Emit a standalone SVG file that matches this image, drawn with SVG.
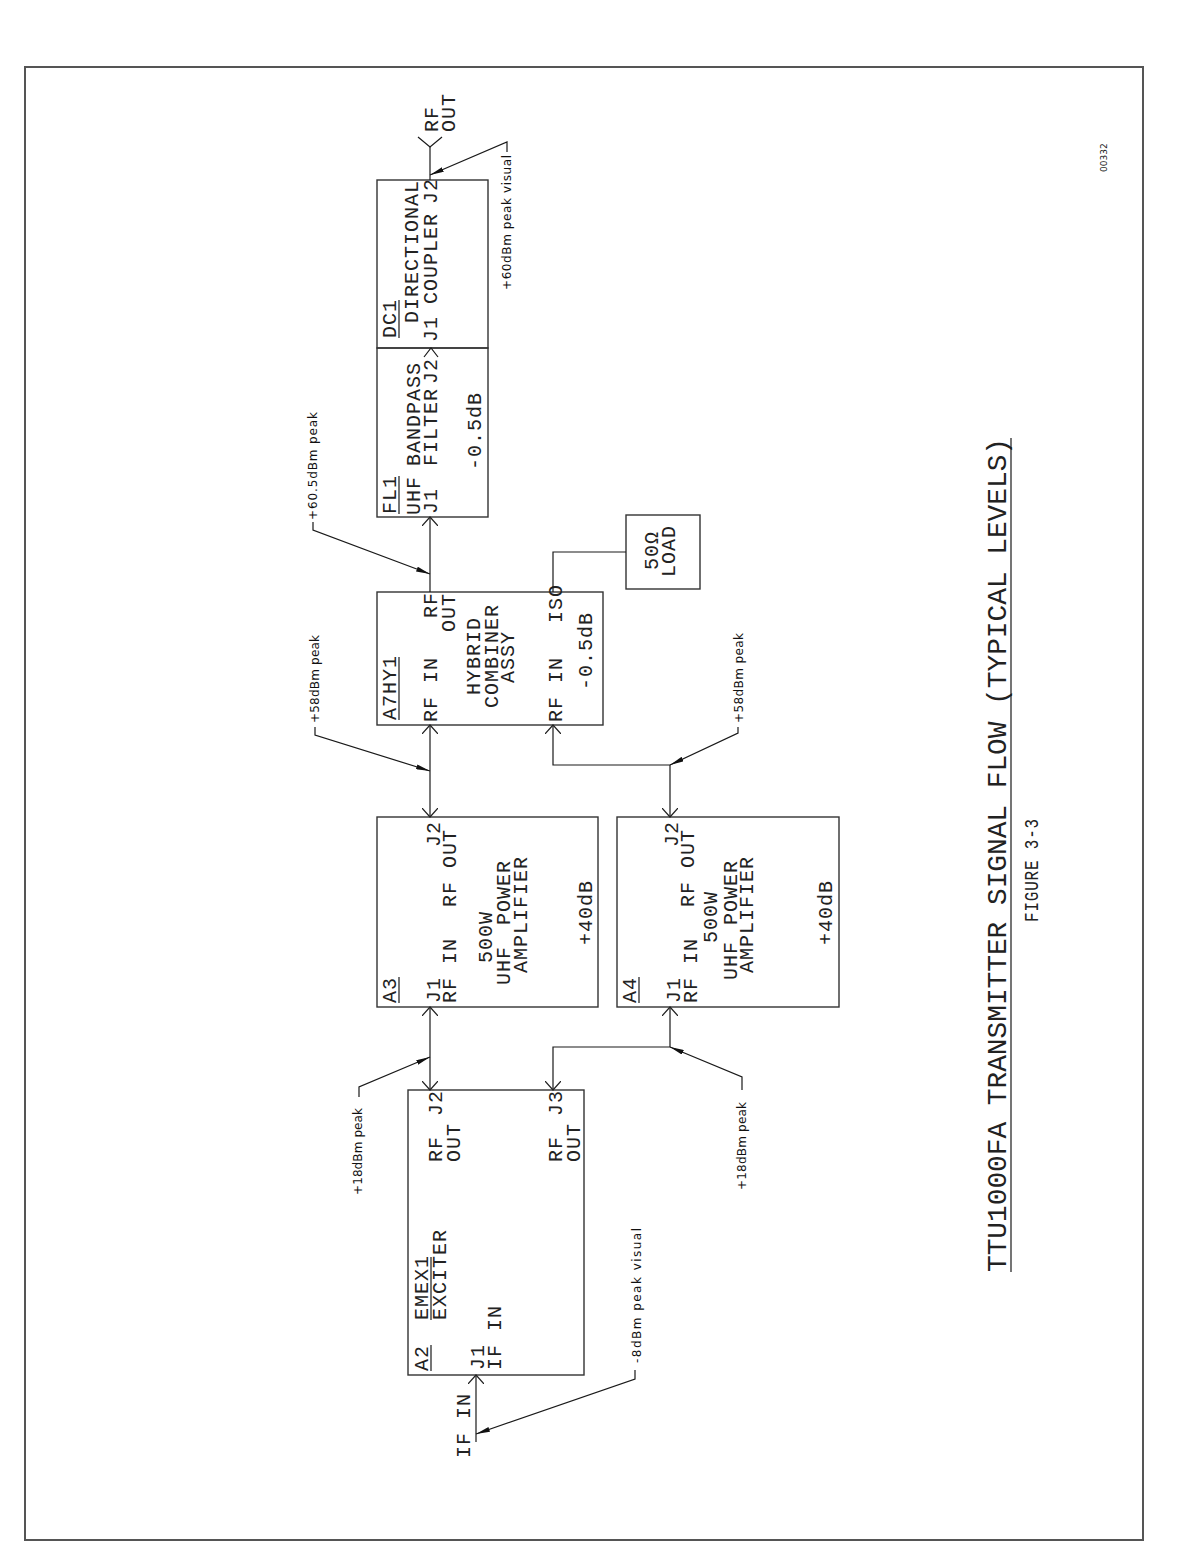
<svg xmlns="http://www.w3.org/2000/svg" width="1186" height="1568" viewBox="0 0 1186 1568">
<defs>
<style>
.box{fill:none;stroke:#333;stroke-width:1.4}
.ln{fill:none;stroke:#1a1a1a;stroke-width:1.2}
.t{font-family:"Liberation Mono",monospace;font-size:20px;letter-spacing:1px;fill:#222}
.s{font-family:"DejaVu Sans",sans-serif;font-size:12px;fill:#111}
.ttl{font-family:"Liberation Mono",monospace;font-size:27px;fill:#222}
</style>
<marker id="oa" viewBox="0 0 10 16" refX="9" refY="8" markerWidth="10" markerHeight="16" orient="auto-start-reverse" markerUnits="userSpaceOnUse"><path d="M0,0 L9,8 L0,16" fill="none" stroke="#222" stroke-width="1.2"/></marker>
<marker id="fa" viewBox="0 0 14 5" refX="14" refY="2.5" markerWidth="14" markerHeight="5" orient="auto" markerUnits="userSpaceOnUse"><path d="M0,0 L14,2.5 L0,5 Z" fill="#111"/></marker>
</defs>
<rect width="1186" height="1568" fill="#fff"/>
<rect x="25" y="67" width="1118" height="1473" fill="none" stroke="#555" stroke-width="2"/>
<g transform="translate(0,1568) rotate(-90)">
<g id="A2">
<rect class="box" x="193" y="408" width="285" height="176"/>
<text class="t" x="197" y="428">A2</text><line class="ln" x1="197" y1="431" x2="223" y2="431"/>
<text class="t" x="248" y="428">EMEX1</text><line class="ln" x1="248" y1="431" x2="311" y2="431"/>
<text class="t" x="248" y="446">EXCITER</text>
<text class="t" x="198" y="484">J1</text>
<text class="t" x="198" y="501">IF IN</text>
<text class="t" x="406" y="442">RF</text><text class="t" x="452" y="442">J2</text>
<text class="t" x="406" y="460">OUT</text>
<text class="t" x="406" y="562">RF</text><text class="t" x="452" y="562">J3</text>
<text class="t" x="406" y="580">OUT</text>
</g>
<g id="A3">
<rect class="box" x="561" y="377" width="190" height="221"/>
<text class="t" x="565" y="396">A3</text><line class="ln" x1="565" y1="399" x2="591" y2="399"/>
<text class="t" x="565" y="440">J1</text><text class="t" x="721" y="440">J2</text>
<text class="t" x="565" y="456">RF IN</text><text class="t" x="661" y="456">RF</text><text class="t" x="700" y="456">OUT</text>
<text class="t" x="605" y="492">500W</text>
<text class="t" x="583" y="510">UHF</text><text class="t" x="643" y="510">POWER</text>
<text class="t" x="595" y="527">AMPLIFIER</text>
<text class="t" x="623" y="592">+40dB</text>
</g>
<g id="A4">
<rect class="box" x="561" y="617" width="190" height="222"/>
<text class="t" x="565" y="636">A4</text><line class="ln" x1="565" y1="639" x2="591" y2="639"/>
<text class="t" x="565" y="680">J1</text><text class="t" x="721" y="678">J2</text>
<text class="t" x="565" y="697">RF IN</text><text class="t" x="661" y="694">RF</text><text class="t" x="700" y="694">OUT</text>
<text class="t" x="625" y="717">500W</text>
<text class="t" x="588" y="737">UHF</text><text class="t" x="643" y="737">POWER</text>
<text class="t" x="595" y="753">AMPLIFIER</text>
<text class="t" x="623" y="832">+40dB</text>
</g>
<g id="A7HY1">
<rect class="box" x="843" y="377" width="133" height="226"/>
<text class="t" x="848" y="396">A7HY1</text><line class="ln" x1="848" y1="399" x2="911" y2="399"/>
<text class="t" x="846" y="437">RF IN</text><text class="t" x="950" y="437">RF</text>
<text class="t" x="936" y="455">OUT</text>
<text class="t" x="873" y="480">HYBRID</text>
<text class="t" x="860" y="498">COMBINER</text>
<text class="t" x="885" y="514">ASSY</text>
<text class="t" x="846" y="562">RF IN</text><text class="t" x="945" y="562">ISO</text>
<text class="t" x="878" y="592">-0.5dB</text>
</g>
<g id="FL1">
<rect class="box" x="1051" y="377" width="169" height="111"/>
<text class="t" x="1054" y="396">FL1</text><line class="ln" x1="1054" y1="399" x2="1092" y2="399"/>
<text class="t" x="1053" y="420">UHF</text><text class="t" x="1102" y="420">BANDPASS</text>
<text class="t" x="1054" y="437">J1</text><text class="t" x="1102" y="437">FILTER</text><text class="t" x="1184" y="437">J2</text>
<text class="t" x="1098" y="481">-0.5dB</text>
</g>
<g id="DC1">
<rect class="box" x="1220" y="377" width="168" height="111"/>
<text class="t" x="1230" y="396">DC1</text><line class="ln" x1="1230" y1="399" x2="1268" y2="399"/>
<text class="t" x="1245" y="418">DIRECTIONAL</text>
<text class="t" x="1226" y="437">J1</text><text class="t" x="1264" y="437">COUPLER</text><text class="t" x="1364" y="437">J2</text>
</g>
<g id="LOAD">
<rect class="box" x="979" y="626" width="74" height="74"/>
<text class="t" x="998" y="658">50Ω</text>
<text class="t" x="991" y="675">LOAD</text>
</g>
<g id="RFOUT">
<text class="t" x="1436" y="438">RF</text>
<text class="t" x="1436" y="455">OUT</text>
</g>
<g id="IFIN">
<text class="t" x="110" y="470">IF IN</text>
</g>
<g id="connectors">
<line class="ln" x1="478" y1="430" x2="561" y2="430" marker-start="url(#oa)" marker-end="url(#oa)"/>
<path class="ln" d="M478,553 L521,553 L521,670 L561,670" marker-start="url(#oa)" marker-end="url(#oa)"/>
<line class="ln" x1="751" y1="430" x2="843" y2="430" marker-start="url(#oa)" marker-end="url(#oa)"/>
<path class="ln" d="M843,553 L803,553 L803,670 L751,670" marker-start="url(#oa)" marker-end="url(#oa)"/>
<line class="ln" x1="976" y1="430" x2="1051" y2="430" marker-end="url(#oa)"/>
<path class="ln" d="M976,553 L1016,553 L1016,626"/>
<path class="ln" d="M1211,424 L1220,431 L1211,438"/>
<line class="ln" x1="1388" y1="430" x2="1421" y2="430"/>
<path class="ln" d="M1431,418 L1421,430 L1431,442"/>
<line class="ln" x1="126" y1="476" x2="193" y2="476" marker-end="url(#oa)"/>
<path class="ln" d="M198,635 L189,635 L134,476" marker-end="url(#fa)"/>
<path class="ln" d="M471,359 L481,359 L511,430" marker-end="url(#fa)"/>
<path class="ln" d="M478,742 L491,742 L521,670" marker-end="url(#fa)"/>
<path class="ln" d="M841,315 L833,315 L797,430" marker-end="url(#fa)"/>
<path class="ln" d="M841,738 L835,738 L803,670" marker-end="url(#fa)"/>
<path class="ln" d="M1046,313 L1038,313 L994,430" marker-end="url(#fa)"/>
<path class="ln" d="M1416,507 L1426,507 L1393,430" marker-end="url(#fa)"/>
</g>
<g id="annotations">
<text class="s" x="205" y="641" textLength="135" lengthAdjust="spacing">-8dBm peak visual</text>
<text class="s" x="373" y="362" textLength="87" lengthAdjust="spacing">+18dBm peak</text>
<text class="s" x="378" y="746" textLength="88" lengthAdjust="spacing">+18dBm peak</text>
<text class="s" x="845" y="319" textLength="88" lengthAdjust="spacing">+58dBm peak</text>
<text class="s" x="845" y="743" textLength="90" lengthAdjust="spacing">+58dBm peak</text>
<text class="s" x="1048" y="317" textLength="108" lengthAdjust="spacing">+60.5dBm peak</text>
<text class="s" x="1278" y="511" textLength="135" lengthAdjust="spacing">+60dBm peak visual</text>
</g>
<g id="title">
<text class="ttl" x="296" y="1006" textLength="834" lengthAdjust="spacingAndGlyphs">TTU1000FA TRANSMITTER SIGNAL FLOW (TYPICAL LEVELS)</text>
<line class="ln" x1="296" y1="1011" x2="1130" y2="1011"/>
<text class="t" x="646" y="1038" textLength="104" lengthAdjust="spacingAndGlyphs">FIGURE 3-3</text>
<text style="font-family:'DejaVu Sans',sans-serif;font-size:9px;fill:#222" x="1396" y="1107">00332</text>
</g>
</g>
</svg>
